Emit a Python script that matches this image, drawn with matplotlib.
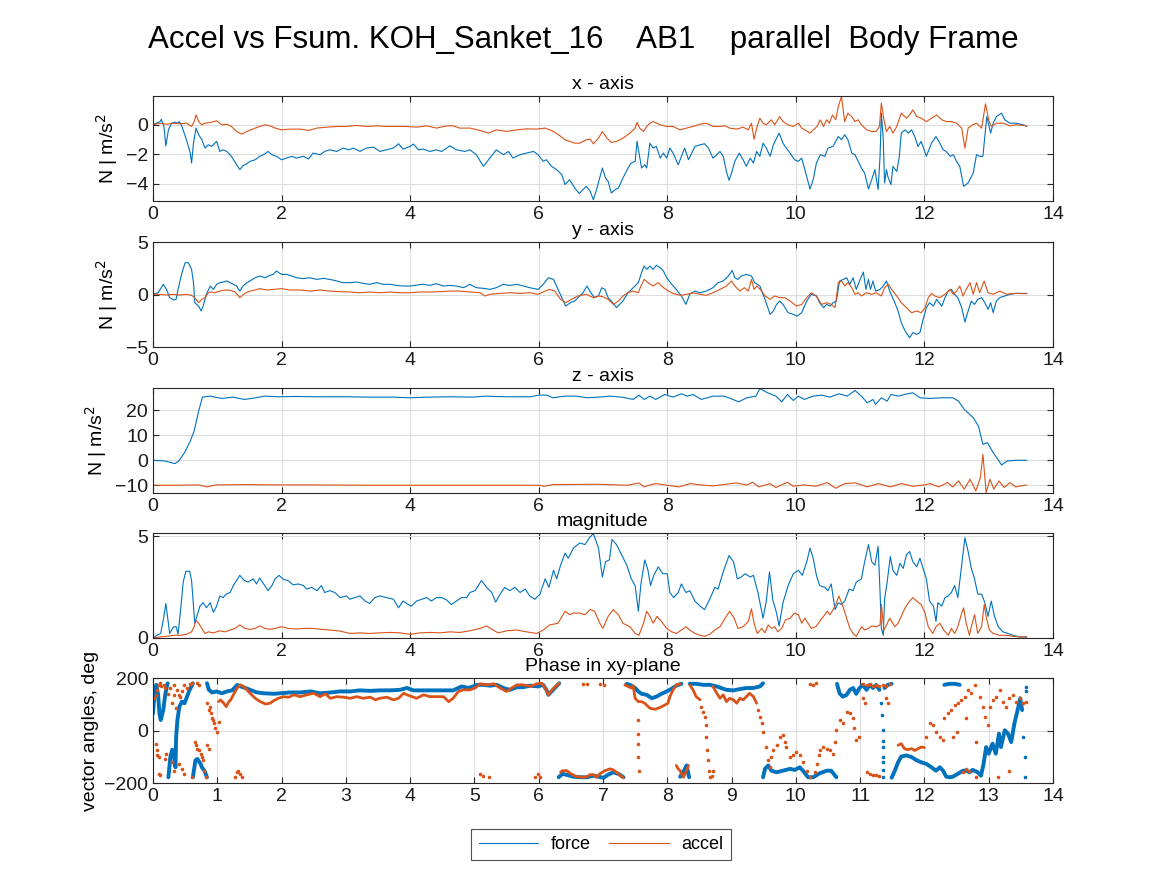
#!/usr/bin/env python3
"""
plot.py - Accel vs Fsum comparison in the body frame (KOH_Sanket_16, AB1)

Five stacked panels: x, y, z components, magnitude and the xy-plane phase.
Values were read off the reference figure by eye.
"""

import numpy as np
import matplotlib
matplotlib.use("Agg")
import matplotlib.pyplot as plt

plt.rcParams["font.family"] = ["Liberation Sans", "DejaVu Sans"]

FORCE_COLOR = "#0072BD"
ACCEL_COLOR = "#D95319"

SUPTITLE = "Accel vs Fsum. KOH_Sanket_16    AB1    parallel  Body Frame"
PANEL_TITLES = ["x - axis", "y - axis", "z - axis", "magnitude", "Phase in xy-plane"]
YLABEL = "N | m/s$^2$"
PHASE_YLABEL = "vector angles, deg"
LEGEND_LABELS = ["force", "accel"]

# (time s, value) pairs
X_FORCE = [
    (0, 0), (0.11, 0.22), (0.13, 0.38), (0.17, -0.11), (0.20, -1.42), (0.24, -0.34), (0.29, 0.11),
    (0.34, 0.18), (0.38, 0.11), (0.41, 0.22), (0.45, -0.11), (0.52, -1.01), (0.58, -1.91), (0.60, -2.58),
    (0.63, -1.24), (0.67, -0.22), (0.71, -0.67), (0.76, -1.01), (0.81, -1.57), (0.86, -1.35), (0.91, -1.46),
    (0.99, -1.12), (1.04, -1.80), (1.09, -1.69), (1.15, -1.80), (1.22, -2.13), (1.30, -2.70), (1.35, -3.03),
    (1.40, -2.76), (1.46, -2.63), (1.51, -2.47), (1.59, -2.36), (1.66, -2.13), (1.72, -2.02), (1.79, -1.80),
    (1.85, -2.02), (1.92, -2.13), (2.00, -2.36), (2.08, -2.25), (2.16, -2.13), (2.23, -2.25), (2.34, -2.13),
    (2.42, -2.31), (2.49, -1.91), (2.60, -2.02), (2.67, -1.80), (2.75, -1.69), (2.86, -1.80), (2.96, -1.57),
    (3.04, -1.69), (3.12, -1.57), (3.22, -1.80), (3.32, -1.57), (3.43, -1.51), (3.53, -1.80), (3.63, -1.69),
    (3.74, -1.57), (3.82, -1.28), (3.89, -1.64), (4.00, -1.46), (4.05, -1.30), (4.13, -1.69), (4.20, -1.64),
    (4.31, -1.80), (4.41, -1.69), (4.49, -1.80), (4.62, -1.42), (4.72, -1.69), (4.85, -1.80), (4.93, -1.69),
    (5.03, -2.02), (5.14, -2.81), (5.22, -2.36), (5.34, -1.69), (5.45, -2.02), (5.53, -1.80), (5.60, -2.25),
    (5.71, -2.02), (5.81, -1.91), (5.92, -1.80), (5.99, -2.02), (6.07, -2.47), (6.12, -2.36), (6.20, -2.81),
    (6.28, -3.03), (6.36, -3.37), (6.41, -4.04), (6.48, -3.71), (6.56, -4.27), (6.63, -4.65), (6.74, -4.16),
    (6.80, -4.49), (6.85, -5.06), (6.90, -4.38), (6.99, -2.92), (7.04, -3.60), (7.08, -3.82), (7.13, -4.61),
    (7.19, -4.38), (7.24, -4.27), (7.31, -3.60), (7.39, -2.92), (7.44, -2.58), (7.50, -2.47), (7.53, -1.12),
    (7.56, -1.91), (7.60, -2.92), (7.65, -2.70), (7.68, -2.92), (7.73, -1.24), (7.78, -1.57), (7.83, -1.46),
    (7.89, -2.25), (7.94, -1.91), (7.99, -2.25), (8.04, -1.57), (8.09, -1.91), (8.17, -2.70), (8.22, -2.13),
    (8.27, -1.57), (8.33, -2.36), (8.38, -1.91), (8.43, -1.46), (8.51, -1.35), (8.58, -1.28), (8.64, -1.57),
    (8.71, -2.25), (8.77, -2.02), (8.82, -1.80), (8.87, -2.13), (8.92, -3.15), (8.96, -3.75), (9.00, -3.26),
    (9.05, -2.47), (9.12, -1.91), (9.18, -2.36), (9.23, -2.81), (9.29, -2.25), (9.34, -2.58), (9.39, -1.80),
    (9.44, -2.13), (9.49, -1.24), (9.54, -1.57), (9.60, -2.13), (9.65, -1.35), (9.74, -0.56), (9.80, -1.24),
    (9.85, -1.57), (9.91, -1.91), (9.98, -2.36), (10.04, -2.47), (10.09, -2.25), (10.14, -3.03), (10.22, -4.34),
    (10.27, -3.71), (10.32, -2.58), (10.38, -2.02), (10.45, -2.13), (10.50, -1.57), (10.58, -1.46),
    (10.66, -0.79), (10.71, -1.01), (10.76, -0.67), (10.81, -1.01), (10.87, -1.91), (10.92, -2.02),
    (10.97, -2.47), (11.02, -2.92), (11.07, -3.26), (11.13, -4.34), (11.18, -3.71), (11.23, -3.03),
    (11.28, -4.38), (11.31, -2.13), (11.33, 0.79), (11.36, -1.01), (11.38, -3.93), (11.41, -3.03),
    (11.43, -3.48), (11.48, -4.04), (11.51, -2.81), (11.57, -3.15), (11.61, -2.13), (11.64, -0.56),
    (11.70, -0.34), (11.75, -0.56), (11.80, -0.34), (11.85, -0.79), (11.90, -1.46), (11.95, -1.12),
    (12.03, -2.13), (12.11, -1.24), (12.18, -0.79), (12.24, -1.24), (12.29, -1.69), (12.34, -1.80),
    (12.40, -2.13), (12.45, -2.02), (12.50, -2.47), (12.55, -2.81), (12.61, -4.16), (12.68, -3.93),
    (12.76, -3.26), (12.81, -2.02), (12.86, -2.13), (12.91, -2.13), (12.97, 0.56), (13.03, -0.56),
    (13.07, 0.11), (13.12, 0.56), (13.20, 0.79), (13.25, 0.34), (13.33, 0.11), (13.43, 0.11), (13.54, 0),
    (13.59, -0.11),
]
X_ACCEL = [
    (0, 0), (0.11, 0.11), (0.21, 0.04), (0.32, 0.11), (0.42, 0.07), (0.52, 0.11), (0.60, -0.11), (0.64, 0.22),
    (0.67, 0.67), (0.71, 0.22), (0.76, 0), (0.81, 0.11), (0.89, 0.16), (0.99, 0.27), (1.07, 0), (1.15, 0.04),
    (1.22, -0.11), (1.30, -0.45), (1.38, -0.63), (1.46, -0.45), (1.56, -0.27), (1.66, -0.11), (1.74, 0),
    (1.82, -0.07), (1.90, -0.22), (2.00, -0.34), (2.13, -0.29), (2.29, -0.29), (2.42, -0.38), (2.55, -0.22),
    (2.70, -0.16), (2.86, -0.11), (3.01, -0.11), (3.17, -0.04), (3.32, -0.11), (3.48, -0.07), (3.63, -0.11),
    (3.79, -0.11), (3.94, -0.11), (4.10, -0.16), (4.26, -0.07), (4.41, -0.22), (4.57, -0.07), (4.67, -0.07),
    (4.77, -0.22), (4.93, -0.22), (5.09, -0.38), (5.22, -0.56), (5.34, -0.34), (5.50, -0.45), (5.66, -0.34),
    (5.81, -0.27), (5.97, -0.29), (6.10, -0.22), (6.23, -0.45), (6.33, -0.74), (6.41, -1.01), (6.48, -1.12),
    (6.56, -1.24), (6.64, -1.24), (6.74, -1.01), (6.80, -0.97), (6.85, -1.28), (6.93, -0.90), (6.99, -0.45),
    (7.06, -0.90), (7.13, -1.19), (7.21, -1.12), (7.31, -0.90), (7.42, -0.56), (7.50, -0.22), (7.53, 0.16),
    (7.57, -0.22), (7.63, -0.45), (7.68, -0.11), (7.73, 0.11), (7.78, 0.22), (7.89, 0), (7.99, -0.11),
    (8.09, -0.11), (8.20, -0.34), (8.30, -0.22), (8.40, -0.11), (8.51, 0.04), (8.61, 0.11), (8.71, -0.11),
    (8.82, -0.11), (8.90, -0.07), (8.97, -0.22), (9.08, -0.29), (9.18, -0.16), (9.26, -0.34), (9.31, 0.11),
    (9.35, -0.97), (9.39, -0.22), (9.44, 0.45), (9.49, 0.11), (9.54, 0), (9.62, 0.34), (9.67, 0), (9.75, 0.56),
    (9.80, 0.22), (9.88, 0), (9.96, -0.11), (10.04, 0.11), (10.09, -0.22), (10.14, -0.34), (10.22, -0.56),
    (10.27, -0.34), (10.33, -0.11), (10.38, 0.34), (10.43, -0.11), (10.48, 0.34), (10.52, 0.11), (10.57, 0.67),
    (10.62, 0.34), (10.66, 1.24), (10.71, 1.91), (10.76, 0.22), (10.81, 0.79), (10.87, 0.56), (10.92, 0.22),
    (10.97, 0.34), (11.02, 0), (11.10, -0.34), (11.18, -0.45), (11.25, -0.45), (11.30, -0.11), (11.33, 1.46),
    (11.37, 0.34), (11.41, -0.45), (11.46, -0.11), (11.51, -0.56), (11.57, -0.11), (11.64, 0.79),
    (11.72, 0.45), (11.77, 0.67), (11.82, 1.01), (11.88, 0.56), (11.95, 0.45), (12.03, 0.22), (12.11, 0.45),
    (12.19, 0.67), (12.27, 0.34), (12.34, 0.22), (12.42, 0.22), (12.50, 0.11), (12.58, -0.22), (12.63, -1.57),
    (12.68, -0.22), (12.75, 0), (12.81, 0.11), (12.89, -0.22), (12.95, 1.42), (13.00, 0.34), (13.04, -0.11),
    (13.12, 0.11), (13.23, 0.11), (13.33, -0.07), (13.43, 0), (13.59, -0.07),
]

Y_FORCE = [
    (0, 0.02), (0.08, 0.17), (0.16, 0.97), (0.21, 0.49), (0.26, -0.30), (0.32, -0.52), (0.36, -0.46),
    (0.39, 0.49), (0.45, 2.08), (0.50, 3.03), (0.55, 3.03), (0.60, 2.40), (0.63, 1.13), (0.65, -0.78),
    (0.71, -1.10), (0.75, -1.57), (0.78, -1.10), (0.83, 0.02), (0.89, 0.81), (0.94, 0.49), (0.99, 0.97),
    (1.04, 1.13), (1.09, 1.19), (1.15, 1.29), (1.20, 1.13), (1.25, 0.97), (1.30, 0.81), (1.35, 0.33),
    (1.40, 0.81), (1.46, 1.13), (1.51, 1.29), (1.59, 1.60), (1.66, 1.76), (1.74, 1.60), (1.82, 1.83),
    (1.87, 1.92), (1.92, 2.24), (2.00, 1.92), (2.08, 1.92), (2.16, 1.76), (2.23, 1.60), (2.34, 1.51),
    (2.44, 1.60), (2.55, 1.44), (2.65, 1.54), (2.75, 1.44), (2.86, 1.29), (2.96, 1.13), (3.06, 1.13),
    (3.17, 1.19), (3.27, 1.06), (3.37, 0.97), (3.48, 1.13), (3.58, 0.97), (3.69, 0.97), (3.79, 0.87),
    (3.89, 0.81), (4.00, 0.81), (4.10, 0.90), (4.20, 0.97), (4.31, 0.87), (4.41, 1.03), (4.52, 0.81),
    (4.62, 0.87), (4.72, 0.81), (4.83, 0.65), (4.93, 0.97), (5.03, 0.65), (5.14, 0.59), (5.24, 0.49),
    (5.34, 0.65), (5.45, 0.97), (5.55, 0.87), (5.66, 0.97), (5.76, 0.81), (5.86, 0.65), (5.99, 0.49),
    (6.07, 0.97), (6.15, 1.60), (6.23, 1.44), (6.30, 0.49), (6.36, -0.30), (6.42, -1.10), (6.49, -0.78),
    (6.56, -0.62), (6.64, -0.14), (6.69, 0.17), (6.75, 0.81), (6.81, 0.17), (6.87, -0.30), (6.93, -0.14),
    (6.98, 0.65), (7.03, 0.49), (7.08, -0.30), (7.13, -0.62), (7.21, -1.25), (7.26, -0.94), (7.31, -0.62),
    (7.39, 0.17), (7.47, 0.65), (7.55, 1.13), (7.60, 2.08), (7.64, 2.71), (7.68, 2.40), (7.73, 2.71),
    (7.78, 2.40), (7.83, 2.78), (7.89, 2.56), (7.94, 2.24), (7.99, 1.60), (8.07, 0.97), (8.14, 0.49),
    (8.22, -0.14), (8.29, -0.94), (8.35, 0.02), (8.43, 0.33), (8.51, 0.17), (8.61, 0.33), (8.71, 0.65),
    (8.79, 1.13), (8.87, 1.29), (8.95, 1.76), (9.01, 2.30), (9.05, 1.60), (9.10, 1.44), (9.15, 1.76),
    (9.23, 1.92), (9.31, 1.76), (9.36, 1.13), (9.44, 0.81), (9.52, -0.46), (9.60, -1.89), (9.65, -1.57),
    (9.70, -0.94), (9.75, -0.62), (9.80, -0.94), (9.88, -1.73), (9.96, -1.89), (10.02, -2.05), (10.09, -1.73),
    (10.17, -0.62), (10.24, 0.02), (10.32, -0.14), (10.37, -0.78), (10.43, -1.25), (10.48, -0.94),
    (10.53, -1.10), (10.58, -0.78), (10.63, -0.62), (10.68, 1.29), (10.74, 1.44), (10.79, 1.60), (10.84, 0.97),
    (10.89, 1.60), (10.94, 0.49), (11.00, 1.44), (11.05, 2.14), (11.09, 0.49), (11.13, 1.44), (11.16, 0.49),
    (11.20, 1.29), (11.24, 0.33), (11.31, 0.49), (11.36, 0.81), (11.41, 1.29), (11.46, 0.33), (11.54, -0.78),
    (11.59, -1.57), (11.64, -2.68), (11.70, -3.48), (11.77, -4.11), (11.82, -3.63), (11.88, -3.79),
    (11.93, -3.63), (11.98, -2.37), (12.03, -1.25), (12.08, -0.78), (12.14, -1.10), (12.19, -0.46),
    (12.27, -1.10), (12.32, -0.30), (12.37, 0.33), (12.42, 0.49), (12.47, 0.02), (12.52, -0.30),
    (12.58, -1.25), (12.63, -2.62), (12.68, -1.57), (12.73, -0.62), (12.78, -0.94), (12.83, -0.46),
    (12.89, -0.30), (12.94, -0.78), (12.99, -1.41), (13.03, -0.78), (13.07, -1.73), (13.12, -0.62),
    (13.17, -0.30), (13.25, -0.14), (13.33, 0.02), (13.43, 0.11), (13.59, 0.11),
]
Y_ACCEL = [
    (0, 0.02), (0.11, 0.02), (0.21, -0.05), (0.32, 0.02), (0.42, -0.05), (0.52, 0.02), (0.60, -0.08),
    (0.65, -0.30), (0.71, -0.78), (0.76, -0.46), (0.81, -0.30), (0.86, 0.17), (0.91, 0.24), (0.96, 0.17),
    (1.04, 0.33), (1.12, 0.43), (1.20, 0.40), (1.28, 0.24), (1.35, -0.30), (1.43, 0.11), (1.51, 0.33),
    (1.59, 0.43), (1.66, 0.56), (1.77, 0.43), (1.87, 0.49), (2.00, 0.56), (2.13, 0.43), (2.29, 0.43),
    (2.44, 0.33), (2.60, 0.43), (2.75, 0.33), (2.91, 0.27), (3.06, 0.24), (3.22, 0.17), (3.37, 0.24),
    (3.53, 0.17), (3.69, 0.24), (3.84, 0.17), (4.00, 0.17), (4.15, 0.24), (4.31, 0.24), (4.46, 0.27),
    (4.62, 0.33), (4.77, 0.33), (4.93, 0.24), (5.09, 0.17), (5.16, -0.14), (5.24, 0.02), (5.40, 0.11),
    (5.55, 0.17), (5.71, 0.11), (5.86, 0.17), (5.99, 0.02), (6.10, 0.33), (6.17, 0.49), (6.25, 0.33),
    (6.34, -0.46), (6.42, -0.78), (6.51, -0.46), (6.61, -0.14), (6.74, 0.02), (6.85, -0.30), (6.93, -0.14),
    (7.00, -0.21), (7.08, -0.46), (7.16, -0.94), (7.24, -0.62), (7.31, -0.14), (7.39, 0.17), (7.47, 0.33),
    (7.55, 0.17), (7.59, 0.81), (7.64, 1.44), (7.70, 1.13), (7.78, 0.81), (7.86, 1.13), (7.94, 0.65),
    (8.02, 0.33), (8.09, 0.11), (8.20, -0.08), (8.30, 0.02), (8.40, 0.17), (8.51, 0.02), (8.61, -0.08),
    (8.71, 0.17), (8.82, 0.49), (8.92, 0.81), (9.00, 1.29), (9.05, 0.81), (9.13, 0.33), (9.20, 0.65),
    (9.26, 0.33), (9.31, 1.44), (9.35, 0.49), (9.39, 0.81), (9.47, 0.33), (9.52, -0.14), (9.60, -0.46),
    (9.67, -0.14), (9.75, -0.30), (9.83, -0.30), (9.91, -0.62), (10.01, -1.10), (10.09, -0.94), (10.17, -0.30),
    (10.24, 0.17), (10.32, -0.14), (10.40, -0.94), (10.48, -0.78), (10.55, -0.94), (10.61, -1.25),
    (10.66, 1.13), (10.71, 1.29), (10.76, 0.81), (10.81, 1.13), (10.87, 0.65), (10.92, 0.02), (10.97, 0.17),
    (11.02, -0.14), (11.10, 0.17), (11.18, 0.02), (11.25, 0.17), (11.33, -0.14), (11.38, 0.65), (11.44, 0.97),
    (11.49, 0.49), (11.57, -0.14), (11.64, -0.78), (11.72, -1.25), (11.80, -1.73), (11.88, -1.57),
    (11.95, -1.73), (12.01, -1.25), (12.06, -0.30), (12.11, 0.11), (12.16, -0.14), (12.24, -0.30),
    (12.32, 0.02), (12.40, 0.49), (12.45, 0.02), (12.50, 0.33), (12.55, 0.81), (12.60, -0.14), (12.65, 0.49),
    (12.71, 1.13), (12.76, 0.02), (12.81, 1.13), (12.86, 0.17), (12.93, 1.29), (12.99, 0.17), (13.07, 0.02),
    (13.17, 0.33), (13.28, 0.02), (13.38, 0.11), (13.59, 0.08),
]

Z_FORCE = [
    (0, 0), (0.18, -0.27), (0.34, -1.33), (0.40, -0.27), (0.49, 3.07), (0.58, 7.73), (0.64, 11.73),
    (0.71, 19.73), (0.77, 25.33), (0.89, 25.73), (1.07, 24.80), (1.24, 25.33), (1.42, 24.40), (1.60, 25.07),
    (1.73, 25.73), (1.96, 25.47), (2.22, 25.60), (2.49, 25.47), (2.76, 25.47), (3.02, 25.47), (3.38, 25.33),
    (3.73, 25.33), (4.00, 25.07), (4.27, 25.33), (4.62, 25.47), (4.98, 25.33), (5.16, 25.73), (5.51, 25.47),
    (5.87, 25.47), (6.00, 26.13), (6.13, 26.13), (6.22, 25.07), (6.40, 25.73), (6.58, 25.73), (6.76, 25.07),
    (6.93, 25.33), (7.11, 25.73), (7.29, 25.33), (7.47, 24.40), (7.56, 26.13), (7.64, 24.40), (7.73, 25.73),
    (7.82, 24.40), (7.96, 26.40), (8.09, 25.33), (8.22, 26.67), (8.31, 25.73), (8.40, 26.40), (8.53, 24.40),
    (8.71, 25.73), (8.89, 25.73), (9.11, 23.47), (9.24, 25.07), (9.38, 25.73), (9.44, 28.80), (9.56, 27.07),
    (9.69, 25.73), (9.78, 23.47), (9.87, 26.40), (9.96, 24.00), (10.04, 25.73), (10.13, 24.40),
    (10.27, 25.73), (10.40, 26.13), (10.53, 25.33), (10.67, 26.67), (10.80, 25.73), (10.92, 28.00),
    (11.02, 25.73), (11.11, 23.07), (11.20, 24.40), (11.24, 22.40), (11.33, 25.07), (11.42, 23.73),
    (11.48, 26.40), (11.60, 25.73), (11.69, 26.40), (11.82, 27.07), (11.93, 25.07), (12.09, 24.80),
    (12.27, 25.07), (12.44, 25.07), (12.53, 23.73), (12.62, 20.40), (12.76, 17.07), (12.84, 13.73),
    (12.91, 6.40), (12.98, 7.07), (13.07, 3.07), (13.16, -0.27), (13.20, -1.87), (13.29, -0.27), (13.42, 0),
    (13.59, 0),
]
Z_ACCEL = [
    (0, -10.0), (0.36, -10.0), (0.71, -9.87), (0.84, -10.67), (0.98, -9.87), (1.42, -9.73), (1.96, -9.87),
    (2.49, -9.87), (3.38, -10.0), (4.27, -10.0), (5.16, -10.0), (6.00, -10.0), (6.09, -10.4), (6.22, -9.73),
    (6.93, -9.6), (7.38, -10.0), (7.56, -9.07), (7.64, -10.67), (7.73, -9.87), (7.82, -9.33), (8.00, -10.0),
    (8.18, -10.67), (8.36, -9.33), (8.53, -9.87), (8.71, -10.27), (9.07, -9.07), (9.24, -9.87), (9.33, -8.8),
    (9.42, -10.67), (9.60, -9.33), (9.69, -10.93), (9.87, -8.8), (9.96, -10.4), (10.13, -9.87),
    (10.31, -10.4), (10.49, -8.93), (10.62, -11.2), (10.76, -9.33), (10.93, -9.07), (11.11, -10.67),
    (11.29, -9.33), (11.47, -10.67), (11.64, -9.33), (11.82, -10.4), (12.00, -9.87), (12.09, -9.33),
    (12.22, -10.67), (12.36, -8.93), (12.44, -10.67), (12.53, -8.27), (12.62, -11.6), (12.71, -7.6),
    (12.80, -12.27), (12.87, -6.93), (12.91, 2.4), (12.96, -12.93), (13.02, -7.6), (13.08, -11.6),
    (13.16, -8.27), (13.24, -10.93), (13.33, -8.93), (13.42, -10.67), (13.59, -9.87),
]

MAG_FORCE = [
    (0, 0), (0.06, 0.13), (0.12, 0.22), (0.17, 1.06), (0.20, 1.69), (0.24, 0.72), (0.26, 0.22), (0.32, 0.55),
    (0.36, 0.55), (0.39, 0.18), (0.43, 1.39), (0.47, 2.74), (0.51, 3.27), (0.57, 3.27), (0.60, 2.82),
    (0.63, 1.56), (0.65, 0.72), (0.69, 1.14), (0.73, 1.56), (0.78, 1.73), (0.83, 1.48), (0.89, 1.73),
    (0.94, 1.26), (0.99, 1.56), (1.04, 2.06), (1.09, 1.98), (1.14, 2.15), (1.20, 2.23), (1.25, 2.57),
    (1.30, 2.82), (1.35, 3.07), (1.42, 2.82), (1.48, 2.74), (1.56, 2.90), (1.61, 2.65), (1.66, 2.94),
    (1.72, 2.65), (1.79, 2.32), (1.85, 2.57), (1.90, 2.90), (1.96, 3.07), (2.03, 2.87), (2.10, 2.82),
    (2.18, 2.60), (2.26, 2.65), (2.34, 2.57), (2.39, 2.40), (2.47, 2.48), (2.55, 2.32), (2.62, 2.57),
    (2.67, 2.23), (2.75, 2.32), (2.83, 2.23), (2.91, 1.98), (3.01, 2.06), (3.06, 1.90), (3.14, 1.98),
    (3.22, 2.06), (3.30, 1.81), (3.37, 1.69), (3.45, 1.98), (3.53, 2.06), (3.63, 1.98), (3.74, 1.90),
    (3.82, 1.48), (3.89, 1.81), (3.97, 1.64), (4.02, 1.56), (4.10, 1.81), (4.18, 1.90), (4.26, 1.98),
    (4.33, 1.81), (4.41, 1.98), (4.49, 1.98), (4.57, 1.86), (4.64, 1.64), (4.72, 1.81), (4.80, 1.98),
    (4.88, 1.98), (4.93, 2.23), (5.01, 2.32), (5.11, 2.82), (5.19, 2.48), (5.27, 2.23), (5.33, 1.76),
    (5.40, 2.15), (5.47, 2.48), (5.55, 2.32), (5.63, 2.48), (5.71, 2.23), (5.79, 2.40), (5.86, 2.06),
    (5.94, 1.90), (6.02, 2.15), (6.10, 2.90), (6.16, 2.48), (6.23, 3.32), (6.28, 2.90), (6.34, 3.57),
    (6.41, 4.16), (6.46, 3.91), (6.54, 4.41), (6.64, 4.66), (6.72, 4.58), (6.79, 4.92), (6.85, 5.12),
    (6.93, 4.41), (6.99, 2.99), (7.04, 3.74), (7.10, 3.83), (7.14, 4.83), (7.21, 4.58), (7.29, 4.08),
    (7.37, 3.57), (7.44, 2.90), (7.50, 2.57), (7.55, 1.31), (7.59, 2.65), (7.65, 3.83), (7.70, 3.32),
    (7.74, 2.57), (7.79, 3.07), (7.86, 3.49), (7.93, 3.15), (8.00, 3.15), (8.04, 2.23), (8.10, 1.98),
    (8.17, 2.23), (8.22, 2.65), (8.29, 2.23), (8.35, 2.32), (8.43, 1.81), (8.51, 1.56), (8.58, 1.39),
    (8.66, 1.90), (8.74, 2.48), (8.79, 2.40), (8.87, 3.24), (8.96, 4.04), (9.03, 3.74), (9.09, 2.90),
    (9.15, 2.99), (9.21, 3.15), (9.29, 2.99), (9.34, 3.07), (9.41, 2.23), (9.49, 0.97), (9.54, 1.81),
    (9.59, 3.24), (9.64, 1.90), (9.70, 1.22), (9.74, 0.59), (9.80, 1.73), (9.88, 2.57), (9.96, 3.15),
    (10.04, 3.32), (10.10, 3.07), (10.17, 3.74), (10.22, 4.41), (10.27, 3.91), (10.32, 3.07), (10.37, 2.57),
    (10.45, 2.48), (10.50, 2.32), (10.55, 2.65), (10.61, 1.39), (10.66, 1.73), (10.71, 1.64), (10.76, 1.81),
    (10.83, 2.40), (10.89, 2.32), (10.94, 2.74), (11.02, 2.90), (11.07, 3.74), (11.13, 4.58), (11.18, 3.74),
    (11.23, 3.57), (11.28, 4.50), (11.31, 2.23), (11.33, 0.47), (11.36, 0.13), (11.38, 1.90), (11.42, 2.74),
    (11.47, 3.99), (11.51, 3.32), (11.57, 3.07), (11.62, 3.66), (11.67, 3.41), (11.72, 4.08), (11.77, 4.24),
    (11.82, 3.74), (11.88, 3.49), (11.93, 3.91), (11.98, 3.41), (12.03, 2.90), (12.08, 1.81), (12.14, 1.56),
    (12.18, 0.81), (12.21, 1.73), (12.27, 1.56), (12.32, 1.98), (12.37, 2.06), (12.42, 2.23), (12.47, 2.57),
    (12.52, 1.98), (12.58, 3.57), (12.63, 4.92), (12.68, 4.24), (12.73, 3.41), (12.78, 2.90), (12.83, 2.15),
    (12.89, 2.15), (12.94, 1.73), (12.99, 1.06), (13.04, 1.81), (13.09, 1.06), (13.15, 0.55), (13.22, 0.30),
    (13.30, 0.22), (13.38, 0.13), (13.48, 0.05), (13.59, 0.05),
]
MAG_ACCEL = [
    (0, 0), (0.11, 0.05), (0.21, 0.08), (0.32, 0.13), (0.42, 0.13), (0.52, 0.18), (0.60, 0.30), (0.64, 0.55),
    (0.67, 0.86), (0.71, 0.72), (0.76, 0.47), (0.81, 0.22), (0.86, 0.30), (0.94, 0.25), (1.04, 0.35),
    (1.12, 0.30), (1.20, 0.39), (1.28, 0.47), (1.35, 0.64), (1.43, 0.47), (1.51, 0.42), (1.59, 0.47),
    (1.66, 0.59), (1.74, 0.47), (1.82, 0.42), (1.90, 0.47), (2.00, 0.55), (2.10, 0.47), (2.23, 0.44),
    (2.36, 0.47), (2.49, 0.47), (2.62, 0.42), (2.75, 0.39), (2.91, 0.34), (3.06, 0.22), (3.22, 0.25),
    (3.37, 0.22), (3.53, 0.25), (3.69, 0.27), (3.84, 0.25), (4.00, 0.18), (4.15, 0.25), (4.31, 0.27),
    (4.46, 0.25), (4.62, 0.30), (4.77, 0.27), (4.93, 0.35), (5.09, 0.47), (5.19, 0.59), (5.29, 0.39),
    (5.37, 0.25), (5.50, 0.35), (5.66, 0.39), (5.81, 0.30), (5.97, 0.22), (6.07, 0.39), (6.17, 0.64),
    (6.30, 0.72), (6.41, 1.31), (6.48, 1.14), (6.54, 1.22), (6.64, 1.22), (6.72, 1.14), (6.80, 1.39),
    (6.87, 1.31), (6.95, 0.72), (7.00, 0.47), (7.08, 1.06), (7.16, 1.39), (7.24, 1.14), (7.31, 0.72),
    (7.42, 0.55), (7.50, 0.22), (7.56, 0.13), (7.63, 0.72), (7.68, 1.31), (7.73, 1.06), (7.78, 0.72),
    (7.84, 1.06), (7.91, 0.81), (7.99, 0.47), (8.07, 0.30), (8.14, 0.22), (8.22, 0.39), (8.29, 0.55),
    (8.35, 0.39), (8.43, 0.22), (8.51, 0.13), (8.58, 0.08), (8.66, 0.18), (8.74, 0.39), (8.82, 0.55),
    (8.90, 0.97), (8.97, 1.31), (9.04, 0.97), (9.10, 0.47), (9.18, 0.55), (9.26, 0.81), (9.31, 1.43),
    (9.35, 0.72), (9.40, 0.22), (9.47, 0.47), (9.52, 0.25), (9.57, 0.64), (9.62, 0.47), (9.67, 0.55),
    (9.72, 0.30), (9.78, 0.47), (9.84, 0.89), (9.91, 0.97), (9.98, 1.22), (10.04, 1.14), (10.09, 0.72),
    (10.14, 0.97), (10.19, 0.72), (10.24, 0.47), (10.31, 0.55), (10.37, 0.81), (10.43, 1.06), (10.49, 1.31),
    (10.53, 1.14), (10.58, 1.39), (10.62, 1.64), (10.67, 2.06), (10.74, 1.48), (10.79, 0.97), (10.84, 0.47),
    (10.89, 0.22), (10.94, 0.08), (11.02, 0.55), (11.07, 0.39), (11.13, 0.47), (11.18, 0.59), (11.25, 0.55),
    (11.31, 0.64), (11.33, 1.64), (11.37, 0.39), (11.41, 0.64), (11.46, 0.97), (11.54, 0.55), (11.59, 0.72),
    (11.64, 1.06), (11.70, 1.48), (11.77, 1.81), (11.82, 1.98), (11.88, 1.81), (11.95, 1.64), (12.01, 1.22),
    (12.06, 0.55), (12.13, 0.22), (12.18, 0.55), (12.24, 0.72), (12.30, 0.39), (12.37, 0.13), (12.42, 0.47),
    (12.47, 0.22), (12.52, 0.55), (12.58, 1.22), (12.61, 1.48), (12.65, 0.72), (12.70, 0.13), (12.73, 0.55),
    (12.78, 1.14), (12.83, 0.22), (12.89, 0.55), (12.93, 1.64), (12.96, 1.06), (13.01, 0.39), (13.07, 0.22),
    (13.17, 0.13), (13.28, 0.13), (13.38, 0.08), (13.48, 0.05), (13.59, 0.05),
]

# Phase: runs of densely sampled points (None breaks a run) and loose single samples
PHASE_FORCE = [
    (0.00, 65), (0.02, 129), (0.05, 174), (0.08, 136), (0.10, 65), (0.12, 40), (0.16, 78), (0.19, 136),
    (0.22, 174), (0.23, 180), None,
    (0.24, -178), (0.27, -101), (0.30, -73), (0.32, -88), (0.35, -140), (0.36, -24), (0.38, 40), (0.41, 91),
    (0.45, 110), (0.49, 104), (0.53, 129), (0.57, 155), (0.61, 174), (0.62, 180), None,
    (0.62, -178), (0.66, -114), (0.69, -108), (0.74, -127), (0.76, -140), (0.80, -153), (0.84, -178), None,
    (0.84, 180), (0.87, 155), (0.92, 145), (0.99, 149), (1.07, 142), (1.15, 149), (1.23, 153), (1.31, 174),
    (1.36, 168), (1.44, 162), (1.51, 155), (1.62, 145), (1.72, 142), (1.88, 140), (1.98, 142), (2.13, 145),
    (2.29, 145), (2.45, 149), (2.60, 142), (2.76, 145), (2.91, 149), (3.07, 149), (3.22, 153), (3.38, 151),
    (3.53, 153), (3.69, 153), (3.84, 155), (3.95, 162), (4.05, 153), (4.21, 153), (4.36, 153), (4.52, 153),
    (4.67, 153), (4.80, 168), (4.91, 162), (4.98, 168), (5.04, 174), (5.14, 174), (5.24, 171), (5.35, 174),
    (5.45, 162), (5.55, 155), (5.66, 165), (5.76, 165), (5.87, 171), (5.99, 168), (6.07, 174), (6.12, 155),
    (6.15, 136), (6.20, 149), (6.25, 162), (6.32, 180), None,
    (6.31, -178), (6.37, -165), (6.44, -169), (6.54, -176), (6.64, -178), (6.75, -178), (6.85, -172),
    (6.93, -176), (7.01, -180), (7.08, -168), (7.16, -159), (7.24, -165), (7.32, -178), None,
    (7.37, 178), (7.42, 174), (7.50, 162), (7.55, 149), (7.60, 140), (7.68, 136), (7.76, 123), (7.83, 129),
    (7.91, 140), (7.99, 149), (8.06, 158), (8.14, 171), (8.22, 178), None,
    (8.20, -176), (8.26, -153), (8.30, -133), (8.34, -178), None,
    (8.35, 178), (8.45, 178), (8.56, 174), (8.66, 174), (8.77, 168), (8.84, 162), (8.92, 155), (9.03, 153),
    (9.13, 158), (9.23, 162), (9.34, 162), (9.44, 168), (9.49, 180), None,
    (9.49, -178), (9.52, -146), (9.57, -133), (9.62, -153), (9.70, -159), (9.80, -153), (9.91, -146),
    (9.98, -150), (10.06, -140), (10.11, -153), (10.19, -178), (10.27, -178), (10.37, -163), (10.48, -153),
    (10.55, -153), (10.63, -178), None,
    (10.64, 178), (10.68, 142), (10.73, 129), (10.79, 136), (10.84, 155), (10.89, 162), (10.94, 140),
    (10.99, 162), (11.04, 174), (11.10, 155), (11.15, 174), (11.20, 162), (11.25, 174), (11.30, 155), None,
    (11.38, 162), (11.43, 174), (11.49, 178), None,
    (11.49, -180), (11.54, -153), (11.59, -121), (11.64, -99), (11.72, -95), (11.80, -101), (11.87, -112),
    (11.95, -121), (12.03, -127), (12.11, -140), (12.18, -153), (12.24, -140), (12.29, -153), (12.34, -176),
    (12.39, -178), (12.44, -176), (12.52, -165), (12.60, -153), (12.65, -153), (12.70, -159), (12.75, -150),
    (12.83, -159), (12.88, -172), (12.92, -127), (12.96, -63), (13.00, -88), (13.06, -50), (13.11, -88),
    (13.16, -12), (13.19, -63), (13.25, 1), (13.30, -12), (13.35, -44), (13.40, 27), (13.45, 78),
    (13.49, 123), (13.52, 78), None,
    (12.31, 174), (12.39, 178), (12.47, 178), (12.55, 174),
]
PHASE_FORCE_LOOSE = [
    (11.33, 104), (11.34, 60), (11.35, 1), (11.35, -40), (11.36, -63), (11.36, -100), (11.36, -121),
    (11.36, -150), (11.36, -176), (13.54, -24), (13.56, -101), (13.57, -176), (13.58, 167), (13.58, 150),
]
PHASE_ACCEL = [
    (1.02, 110), (1.05, 117), (1.10, 104), (1.14, 91), (1.18, 110), (1.21, 117), (1.25, 136), (1.31, 162),
    (1.36, 174), (1.41, 168), (1.46, 155), (1.51, 142), (1.59, 123), (1.67, 110), (1.75, 101), (1.82, 104),
    (1.88, 114), (1.95, 123), (2.03, 129), (2.11, 127), (2.19, 136), (2.29, 129), (2.39, 136), (2.50, 142),
    (2.60, 129), (2.68, 140), (2.76, 123), (2.86, 129), (2.96, 127), (3.07, 123), (3.17, 129), (3.27, 123),
    (3.38, 127), (3.46, 117), (3.53, 123), (3.64, 127), (3.74, 117), (3.82, 123), (3.90, 142), (3.95, 136),
    (4.03, 129), (4.10, 123), (4.21, 136), (4.31, 129), (4.41, 129), (4.52, 129), (4.60, 110), (4.67, 123),
    (4.75, 149), (4.83, 155), (4.93, 155), (5.01, 162), (5.09, 178), (5.19, 174), (5.30, 178), (5.40, 162),
    (5.50, 149), (5.58, 162), (5.66, 174), (5.76, 174), (5.87, 168), (5.97, 178), (6.05, 180), (6.10, 162),
    (6.15, 136), (6.20, 153), (6.25, 165), (6.32, 180), None,
    (6.34, -159), (6.37, -153), (6.44, -153), (6.49, -163), (6.59, -176), (6.69, -178), (6.75, -176),
    (6.80, -168), (6.85, -168), (6.90, -178), (6.95, -165), (7.03, -153), (7.11, -146), (7.16, -150),
    (7.21, -159), (7.27, -172), (7.32, -180), None,
    (7.34, 174), (7.39, 168), (7.44, 162), (7.47, 171), (7.50, 123), (7.55, 110), (7.60, 110), (7.65, 104),
    (7.73, 85), (7.81, 81), (7.89, 88), (7.96, 97), (8.01, 104), (8.04, 129), (8.09, 155), (8.14, 174),
    (8.20, 178), None,
    (8.14, -133), (8.17, -146), (8.20, -153), (8.25, -178), (8.30, -153), (8.33, -133), None,
    (8.35, 174), (8.40, 155), (8.45, 129), (8.51, 117), None,
    (8.71, 168), (8.77, 142), (8.82, 123), (8.87, 136), (8.92, 110), (8.97, 123), (9.03, 117), (9.08, 104),
    (9.13, 123), (9.18, 117), (9.23, 129), (9.28, 142), (9.34, 129), (9.39, 104), None,
    (11.59, -56), (11.64, -50), (11.69, -69), (11.74, -73), (11.80, -69), (11.85, -76), (11.90, -69),
    (11.95, -63), (12.00, -65),
]
PHASE_ACCEL_LOOSE = [
    (0.01, 123), (0.04, 136), (0.06, 155), (0.09, 174), (0.11, 180), (0.12, 171), (0.04, -50), (0.06, -76),
    (0.07, -95), (0.09, -101), (0.19, -108), (0.21, -88), (0.09, -165), (0.11, -168), (0.17, 174),
    (0.19, 162), (0.24, 140), (0.26, 162), (0.30, 104), (0.32, 136), (0.36, 85), (0.32, 174), (0.37, 155),
    (0.40, 136), (0.42, 129), (0.45, 149), (0.48, 174), (0.53, 162), (0.58, 178), (0.61, 180), (0.30, -121),
    (0.32, -153), (0.40, -127), (0.45, -146), (0.48, -165), (0.61, -178), (0.66, -44), (0.67, -56),
    (0.69, -69), (0.72, -76), (0.74, -88), (0.76, -101), (0.78, -114), (0.80, -153), (0.83, -178),
    (0.68, 180), (0.71, 174), (0.84, 104), (0.87, 78), (0.88, 91), (0.90, 65), (0.92, 46), (0.93, 40),
    (0.95, 27), (0.97, 8), (0.99, -5), (1.02, 33), (0.84, -56), (0.87, -69),
    (1.28, -176), (1.31, -159), (1.33, -153), (1.36, -165), (1.38, -178), (5.09, -165), (5.14, -172),
    (5.22, -176), (5.94, -178), (5.99, -165), (6.02, -176),
    (6.69, 178), (6.75, 178), (6.95, 178), (7.01, 174),
    (7.54, 40), (7.54, -12), (7.55, -50), (7.55, -101), (7.56, -153),
    (8.53, 91), (8.56, 72), (8.58, 53), (8.60, 21), (8.61, -24), (8.62, -76), (8.63, -114), (8.65, -153),
    (8.67, -176), (8.69, -172), (8.71, -153),
    (9.41, 78), (9.44, 53), (9.47, 27), (9.49, -5),
    (9.54, -63), (9.57, -114), (9.60, -140), (9.62, -101), (9.65, -76), (9.70, -56), (9.75, -24),
    (9.80, -18), (9.83, -44), (9.85, -63), (9.91, -101), (9.96, -95), (10.01, -82), (10.06, -95),
    (10.11, -121), (10.17, -153), (10.22, -178),
    (10.22, 178), (10.27, 174), (10.32, 180),
    (10.30, -159), (10.33, -127), (10.36, -95), (10.38, -76), (10.42, -63), (10.48, -69), (10.53, -76),
    (10.58, -88), (10.61, -44), (10.63, 1), (10.68, 40), (10.73, 27), (10.79, 72), (10.84, 65), (10.89, 46),
    (10.91, 8), (10.94, -37), (10.99, -24),
    (11.04, 178), (11.10, 174), (11.15, 178), (11.20, 171), (11.25, 174), (11.30, 168), (11.35, 174),
    (11.41, 168), (11.46, 178), (11.04, 123), (11.07, 104), (11.41, 123), (11.43, 104),
    (11.10, -159), (11.15, -165), (11.20, -168), (11.25, -168), (11.30, -172),
    (12.03, -24), (12.08, 27), (12.13, 21), (12.18, -5), (12.24, -24), (12.29, -37),
    (12.31, 46), (12.37, 65), (12.42, 78), (12.47, 97), (12.52, 104), (12.57, 117), (12.63, 129),
    (12.68, 155), (12.73, 142), (12.78, 174),
    (12.44, -24), (12.50, -5), (12.65, 46), (12.81, -44), (12.86, 129), (12.91, 91), (12.95, 53),
    (12.99, 21), (13.02, 91), (13.07, 117), (13.12, 129), (13.17, 155), (13.22, 110), (13.27, 91),
    (13.32, 123), (13.38, 136), (13.43, 110), (13.48, 123), (13.53, 104), (13.58, 110),
    (12.60, -159), (12.65, -146), (12.70, -153), (12.81, -178), (13.15, -176), (13.32, -153),
]


def unzip(pairs):
    """Turn a list of (t, v) pairs (None = gap) into two float arrays."""
    t = np.array([np.nan if p is None else p[0] for p in pairs], dtype=float)
    v = np.array([np.nan if p is None else p[1] for p in pairs], dtype=float)
    return t, v


def style_axes(ax, ylim, yticks, xticks):
    ax.set_xlim(0, 14)
    ax.set_ylim(*ylim)
    ax.set_xticks(xticks)
    ax.set_yticks(yticks)
    ax.grid(True, color="#dddddd", linewidth=0.8)
    ax.set_axisbelow(True)
    ax.tick_params(direction="in", top=True, right=True, length=4, width=0.8,
                   labelsize=14, colors="#262626", labelcolor="#1a1a1a")
    for spine in ax.spines.values():
        spine.set_color("#262626")
        spine.set_linewidth(0.8)


def main():
    fig = plt.figure(figsize=(11.67, 8.75), dpi=100)

    left, width, height = 0.1311, 0.7712, 0.12
    bottoms = [0.7703, 0.6034, 0.4366, 0.2709, 0.1051]
    axes = [fig.add_axes([left, b, width, height]) for b in bottoms]

    even_ticks = np.arange(0, 15, 2)
    line_panels = [
        (X_FORCE, X_ACCEL, (-5.15, 1.95), [-4, -2, 0]),
        (Y_FORCE, Y_ACCEL, (-5, 5), [-5, 0, 5]),
        (Z_FORCE, Z_ACCEL, (-13.1, 29.0), [-10, 0, 10, 20]),
        (MAG_FORCE, MAG_ACCEL, (0, 5.15), [0, 5]),
    ]

    handles = None
    for i, (force, accel, ylim, yticks) in enumerate(line_panels):
        ax = axes[i]
        tf, vf = unzip(force)
        ta, va = unzip(accel)
        hf, = ax.plot(tf, vf, color=FORCE_COLOR, linewidth=0.8)
        ha, = ax.plot(ta, va, color=ACCEL_COLOR, linewidth=0.8)
        if handles is None:
            handles = [hf, ha]
        style_axes(ax, ylim, yticks, even_ticks)
        ax.set_title(PANEL_TITLES[i], fontsize=14, pad=5)
        if i < 3:
            ax.set_ylabel(YLABEL, fontsize=14)

    # phase panel: dense runs drawn as thick traces, loose samples as dots
    ax = axes[4]
    tf, vf = unzip(PHASE_FORCE)
    ax.plot(tf, vf, color=FORCE_COLOR, linewidth=2.8, solid_capstyle="round")
    tf, vf = unzip(PHASE_FORCE_LOOSE)
    ax.plot(tf, vf, "o", color=FORCE_COLOR, markersize=2.6, markeredgewidth=0)
    ta, va = unzip(PHASE_ACCEL)
    ax.plot(ta, va, color=ACCEL_COLOR, linewidth=2.0, solid_capstyle="round")
    ta, va = unzip(PHASE_ACCEL_LOOSE)
    ax.plot(ta, va, "o", color=ACCEL_COLOR, markersize=2.6, markeredgewidth=0)
    style_axes(ax, (-200, 200), [-200, 0, 200], np.arange(0, 15, 1))
    ax.set_title(PANEL_TITLES[4], fontsize=14, pad=5)
    ax.set_ylabel(PHASE_YLABEL, fontsize=14)

    fig.text(0.5, 1 - 40 / 875, SUPTITLE, ha="center", va="center", fontsize=22.5)

    leg = fig.legend(handles, LEGEND_LABELS, loc="center", ncol=2,
                     bbox_to_anchor=(601 / 1167, 1 - 844.5 / 875), fontsize=13,
                     frameon=True, fancybox=False, edgecolor="#262626",
                     handlelength=3.3, handletextpad=0.7, columnspacing=1.0,
                     borderpad=0.4)
    leg.get_frame().set_linewidth(0.8)

    fig.savefig("out.png", dpi=100)
    plt.close(fig)


if __name__ == "__main__":
    main()
